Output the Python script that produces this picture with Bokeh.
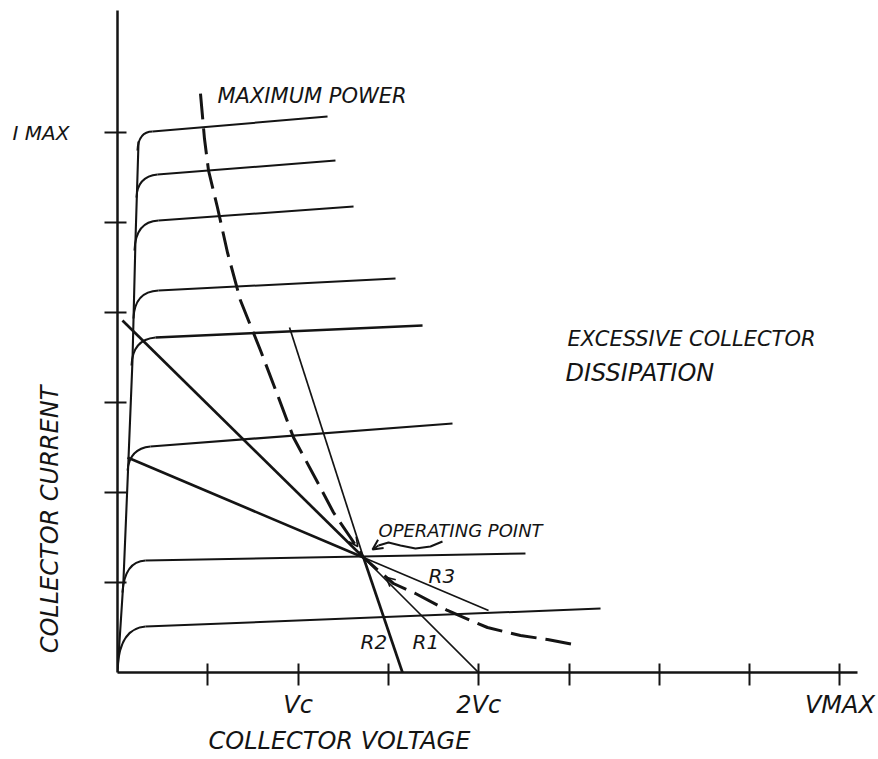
import math
from bokeh.plotting import figure
from bokeh.layouts import row
from bokeh.models import Range1d, FixedTicker, Label, Arrow, OpenHead, Title
from bokeh.embed import file_html
from bokeh.resources import INLINE

# ---------------- data ----------------
# axis ticks (1 unit per tick)
x_ticks = [1, 2, 3, 4, 5, 6, 7, 8]
x_tick_labels = ["", "Vc", "", "2Vc", "", "", "", "VMAX"]
y_ticks = [1, 2, 3, 4, 5, 6]
y_max_label = "I MAX"

# saturation region (steep rise from origin)
saturation_x = [0.0, 0.066, 0.122, 0.166, 0.199, 0.233]
saturation_y = [0.0, 1.022, 2.378, 3.467, 4.800, 5.900]

# collector characteristic curves, top (I max) to bottom
curve_start_x = [0.221, 0.210, 0.188, 0.177, 0.155, 0.111, 0.055, 0.000]
curve_start_y = [5.800, 5.278, 4.689, 3.933, 3.411, 2.244, 0.889, 0.044]
curve_corner_x = [0.233, 0.221, 0.199, 0.188, 0.166, 0.133, 0.078, 0.022]
curve_corner_y = [6.011, 5.511, 5.011, 4.233, 3.700, 2.489, 1.233, 0.489]
curve_knee_x = [0.388, 0.443, 0.454, 0.454, 0.421, 0.365, 0.310, 0.310]
curve_knee_y = [6.011, 5.533, 5.022, 4.244, 3.722, 2.511, 1.244, 0.511]
curve_end_x = [2.326, 2.414, 2.614, 3.079, 3.378, 3.710, 4.518, 5.349]
curve_end_y = [6.178, 5.689, 5.178, 4.378, 3.856, 2.767, 1.322, 0.711]

# maximum power dissipation curve (dashed)
max_power_x = [0.919, 0.963, 1.008, 1.107, 1.218, 1.362, 1.584, 1.783, 1.949, 2.193,
               2.392, 2.580, 2.724, 3.056, 3.300, 3.654, 4.097, 4.463, 4.762, 5.050]
max_power_y = [6.433, 5.933, 5.578, 5.167, 4.667, 4.133, 3.578, 3.056, 2.611, 2.156,
               1.778, 1.500, 1.278, 0.989, 0.878, 0.689, 0.500, 0.411, 0.367, 0.311]

# operating point and load lines
op_x = 2.724
op_y = 1.278
load_names = ["R1", "R2", "R3"]
load_start_x = [0.055, 1.905, 0.111]
load_start_y = [3.911, 3.833, 2.389]
load_end_x = [3.998, 3.156, 4.109]
load_end_y = [0.000, 0.000, 0.689]

# curly pointer from "OPERATING POINT" note
pointer_x = [3.599, 3.466, 3.300, 3.134, 3.001, 2.890, 2.824]
pointer_y = [1.456, 1.400, 1.378, 1.411, 1.444, 1.411, 1.367]

# ---------------- styles ----------------
INK = "#141414"
FONT = "DejaVu Sans"
curve_widths = [2.0, 2.0, 2.0, 2.0, 2.5, 2.2, 2.0, 2.0]
upper_widths = [2.7, 1.7, 2.7]
lower_widths = [1.7, 2.7, 1.7]

PX_X = 90.3        # pixels per x unit
y_range = Range1d(0, 7.356)

# main chart
p = figure(width=774, height=759,
           x_range=Range1d(0, 740 / PX_X), y_range=y_range,
           output_backend="svg", toolbar_location=None, title=None,
           min_border_left=13, min_border_right=21,
           min_border_top=10, min_border_bottom=87,
           background_fill_color="white", border_fill_color="white",
           outline_line_color=None)
p.grid.visible = False

for ax, ticks in ((p.xaxis[0], x_ticks), (p.yaxis[0], y_ticks)):
    ax.ticker = FixedTicker(ticks=ticks)
    ax.axis_line_width = 2.5
    ax.axis_line_color = INK
    ax.major_tick_line_width = 2
    ax.major_tick_line_color = INK
    ax.major_tick_in = 9
    ax.major_tick_out = 13
    ax.minor_tick_line_color = None
    ax.major_label_text_font = FONT
    ax.major_label_text_font_style = "italic"
    ax.major_label_text_color = INK

p.xaxis.major_label_overrides = {t: lab for t, lab in zip(x_ticks, x_tick_labels)}
p.xaxis.major_label_text_font_size = "24px"
p.xaxis.major_label_standoff = 5
p.yaxis.major_label_overrides = {t: "" for t in y_ticks}
p.yaxis.major_label_text_font_size = "0px"
p.yaxis.major_label_standoff = 0

# saturation rise
p.line(saturation_x, saturation_y, line_color=INK, line_width=2.1)

# characteristic curves: rounded knee + nearly flat part
p.quadratic(x0=curve_start_x, y0=curve_start_y, x1=curve_knee_x, y1=curve_knee_y,
            cx=curve_corner_x, cy=curve_corner_y, line_color=INK, line_width=2.0)
p.segment(x0=curve_knee_x, y0=curve_knee_y, x1=curve_end_x, y1=curve_end_y,
          line_color=INK, line_width=curve_widths)

# maximum power curve
p.line(max_power_x, max_power_y, line_color=INK, line_width=3, line_dash="26 9")

# load lines through the operating point
p.segment(x0=load_start_x, y0=load_start_y, x1=[op_x] * 3, y1=[op_y] * 3,
          line_color=INK, line_width=upper_widths)
p.segment(x0=[op_x] * 3, y0=[op_y] * 3, x1=load_end_x, y1=load_end_y,
          line_color=INK, line_width=lower_widths)

# pointer to operating point
p.line(pointer_x[:-1], pointer_y[:-1], line_color=INK, line_width=2)
p.add_layout(Arrow(end=OpenHead(size=10, line_width=2, line_color=INK),
                   x_start=pointer_x[-2], y_start=pointer_y[-2],
                   x_end=pointer_x[-1], y_end=pointer_y[-1],
                   line_color=INK, line_width=2))
# small arrow marks converging on the operating point
p.add_layout(Arrow(end=OpenHead(size=9, line_width=1.6, line_color=INK),
                   x_start=max_power_x[10], y_start=max_power_y[10],
                   x_end=max_power_x[11] + 0.08, y_end=max_power_y[11] - 0.1,
                   line_alpha=0))
p.add_layout(Arrow(end=OpenHead(size=9, line_width=1.6, line_color=INK),
                   x_start=load_end_x[0] - 0.9, y_start=load_end_y[0] + 0.95,
                   x_end=op_x + 0.25, y_end=op_y - 0.22,
                   line_alpha=0))


def note(fig, text, x, y, size, align="left", angle=0.0):
    fig.add_layout(Label(x=x, y=y, text=text, text_font=FONT, text_font_style="italic",
                         text_font_size=size, text_color=INK, text_align=align,
                         text_baseline="middle", angle=angle))


note(p, "MAXIMUM POWER", 1.107, 6.41, "21px")
note(p, "EXCESSIVE COLLECTOR", 4.983, 3.711, "21px")
note(p, "DISSIPATION", 4.961, 3.333, "24px")
note(p, "OPERATING POINT", 2.890, 1.578, "18px")
note(p, load_names[2], 3.444, 1.067, "20px")
note(p, load_names[1], 2.691, 0.344, "20px")
note(p, load_names[0], 3.267, 0.344, "20px")

# x axis title, placed left-aligned under the axis
p.add_layout(Title(text="COLLECTOR VOLTAGE", align="left", offset=91, standoff=7,
                   text_font=FONT, text_font_style="italic", text_font_size="24px",
                   text_color=INK), "below")

# left strip sharing the y scale: I MAX tick note and y axis title
side = figure(width=104, height=759,
              x_range=Range1d(-117 / PX_X, -13 / PX_X), y_range=y_range,
              output_backend="svg", toolbar_location=None, title=None,
              min_border_left=0, min_border_right=0,
              min_border_top=10, min_border_bottom=87,
              background_fill_color="white", border_fill_color="white",
              outline_line_color=None)
side.axis.visible = False
side.grid.visible = False
note(side, y_max_label, -1.163, y_ticks[-1], "20px")
note(side, "COLLECTOR CURRENT", -0.742, 1.70, "24px", align="center", angle=math.pi / 2)

layout = row(side, p)
open("out.html", "w").write(file_html(layout, INLINE))
